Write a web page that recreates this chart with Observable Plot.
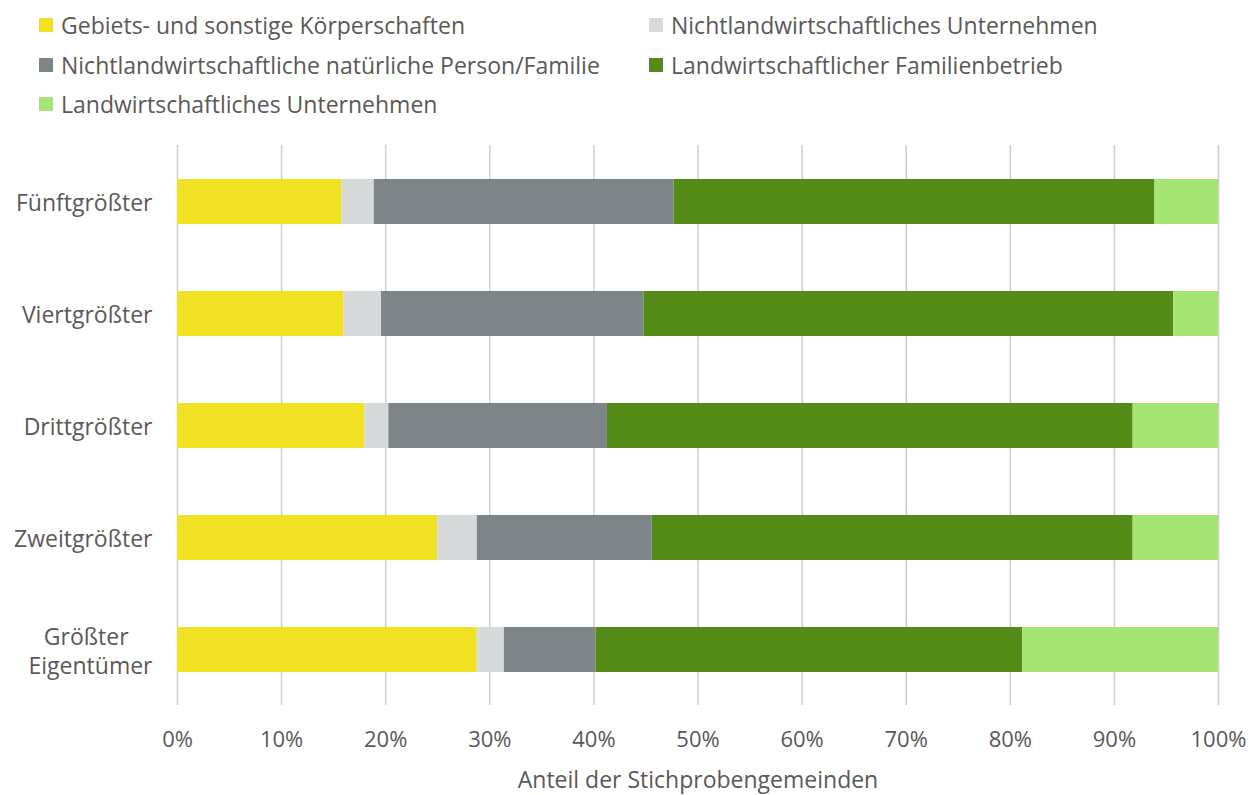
<!DOCTYPE html>
<html>
<head>
<meta charset="utf-8">
<script src="https://cdn.jsdelivr.net/npm/d3@7"></script>
<script src="https://cdn.jsdelivr.net/npm/@observablehq/plot@0.6"></script>
<style>
  html, body { margin: 0; padding: 0; background: #fff; }
  body { width: 1259px; height: 795px; position: relative; overflow: hidden; font-family: "Open Sans", sans-serif; }
  #legend { position: absolute; left: 0; top: 0; width: 1259px; height: 125px; }
  .item { position: absolute; display: flex; align-items: center; font-size: 23px; color: #595959; white-space: nowrap; line-height: 1; }
  .sw { width: 14px; height: 14px; margin-right: 8px; flex: none; }
  #chart { position: absolute; left: 0; top: 125px; }
</style>
</head>
<body>
<div id="legend"></div>
<div id="chart"></div>
<script>
// Categories (owner rank) and series
const owners = ["Größter Eigentümer", "Zweitgrößter", "Drittgrößter", "Viertgrößter", "Fünftgrößter"];
const yOrder = ["Fünftgrößter", "Viertgrößter", "Drittgrößter", "Zweitgrößter", "Größter Eigentümer"];
const seriesNames = [
  "Gebiets- und sonstige Körperschaften",
  "Nichtlandwirtschaftliches Unternehmen",
  "Nichtlandwirtschaftliche natürliche Person/Familie",
  "Landwirtschaftlicher Familienbetrieb",
  "Landwirtschaftliches Unternehmen"
];
const seriesColors = ["#f0e122", "#d6dadb", "#7e8588", "#548b18", "#a6e574"];

// Values in percent, per owner (same order as owners)
const gebiets       = [28.8, 25.0, 18.0, 16.0, 15.8];
const nlUnternehmen = [2.6, 3.8, 2.3, 3.6, 3.1];
const nlPerson      = [8.8, 16.8, 21.0, 25.2, 28.8];
const lwFamilie     = [41.0, 46.2, 50.5, 50.9, 46.2];
const lwUnternehmen = [18.8, 8.2, 8.2, 4.3, 6.1];

const xTicks = [0, 0.1, 0.2, 0.3, 0.4, 0.5, 0.6, 0.7, 0.8, 0.9, 1.0];
const xLabel = "Anteil der Stichprobengemeinden";

const seriesValues = [gebiets, nlUnternehmen, nlPerson, lwFamilie, lwUnternehmen];
const data = [];
seriesNames.forEach((s, si) => {
  owners.forEach((o, oi) => {
    data.push({owner: o, series: s, value: seriesValues[si][oi] / 100});
  });
});

// Legend (HTML)
const legendPos = [
  {left: 39, top: 25}, {left: 649, top: 25},
  {left: 39, top: 65}, {left: 649, top: 65},
  {left: 39, top: 104}
];
const legend = document.getElementById("legend");
seriesNames.forEach((name, si) => {
  const el = document.createElement("div");
  el.className = "item";
  el.style.left = legendPos[si].left + "px";
  el.style.top = (legendPos[si].top - 12) + "px";
  el.style.height = "24px";
  const sw = document.createElement("span");
  sw.className = "sw";
  sw.style.background = seriesColors[si];
  const tx = document.createElement("span");
  tx.textContent = name;
  el.appendChild(sw);
  el.appendChild(tx);
  legend.appendChild(el);
});

const yFormat = d => d === "Größter Eigentümer" ? "Größter\u00A0\u00A0\u00A0\u00A0\nEigentümer" : d;

const chart = Plot.plot({
  width: 1259,
  height: 670,
  marginTop: 20,
  marginBottom: 90,
  marginLeft: 177,
  marginRight: 41,
  style: {fontFamily: "Open Sans, sans-serif", fontSize: "23px", color: "#595959", background: "white"},
  x: {domain: [0, 1]},
  y: {domain: yOrder, paddingInner: 0.6, paddingOuter: 0.3},
  color: {domain: seriesNames, range: seriesColors},
  marks: [
    Plot.gridX(xTicks, {stroke: "#d0d0d0", strokeWidth: 1.6, strokeOpacity: 1}),
    Plot.barX(data, Plot.stackX({y: "owner", x: "value", fill: "series", z: "series", order: seriesNames})),
    Plot.axisX({ticks: xTicks, tickFormat: d3.format(".0%"), tickSize: 0, tickPadding: 26, fill: "#595959", fontSize: 22, label: null}),
    Plot.text([xLabel], {frameAnchor: "bottom", dy: 82, fill: "#595959", fontSize: 23}),
    Plot.axisY({tickSize: 0, tickPadding: 25, tickFormat: yFormat, fill: "#595959", fontSize: 23, lineHeight: 1.26, label: null})
  ]
});
document.getElementById("chart").appendChild(chart);
</script>
</body>
</html>
